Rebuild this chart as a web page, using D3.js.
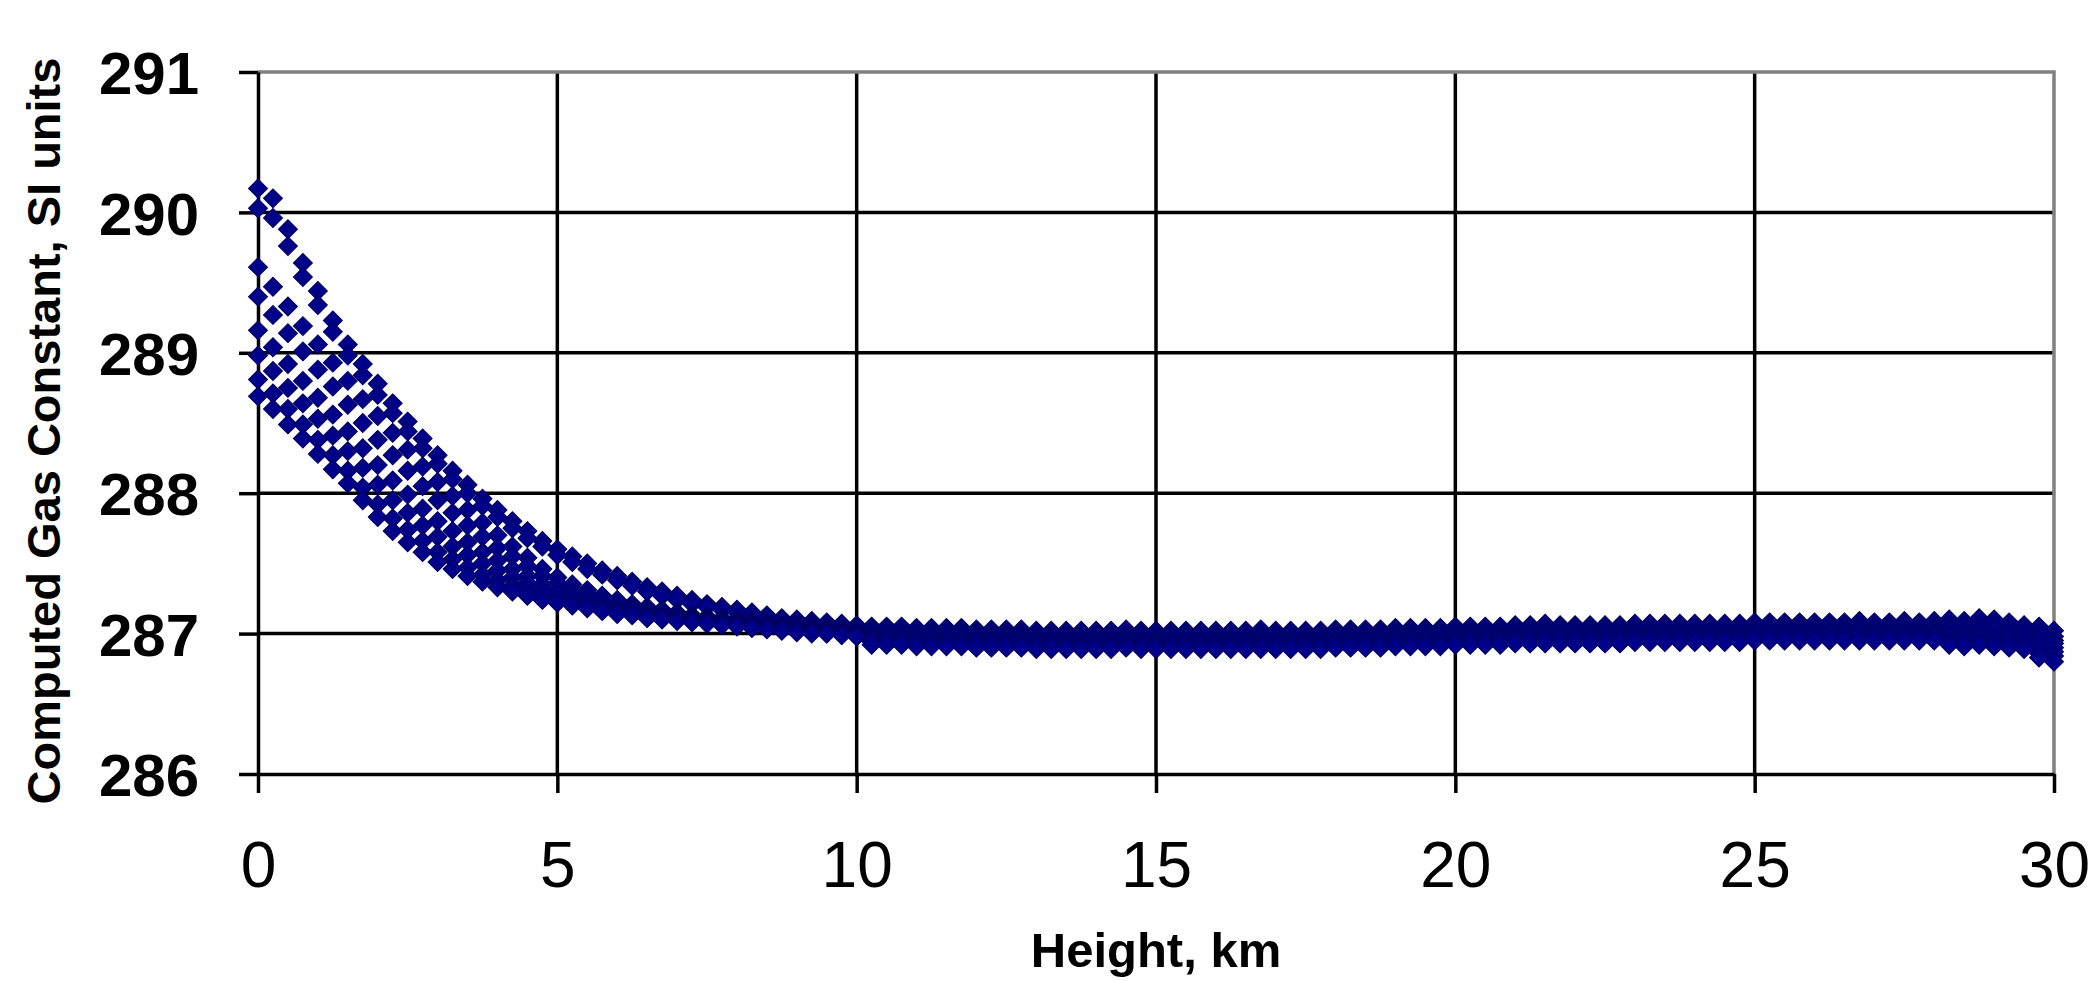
<!DOCTYPE html>
<html lang="en">
<head>
<meta charset="utf-8" />
<title>Computed gas constant vs height</title>
<script src="https://cdn.jsdelivr.net/npm/d3@7"></script>
<style>
  body { margin: 0; background: #fff; }
  svg { display: block; font-family: "Liberation Sans", Arial, sans-serif; }
</style>
</head>
<body>
<div id="chart"></div>
<script>
/*************** data ***************/

// height, km (0.25 km steps)
const heights = [
  0, 0.25, 0.5, 0.75, 1, 1.25, 1.5, 1.75, 2, 2.25, 2.5, 2.75,
  3, 3.25, 3.5, 3.75, 4, 4.25, 4.5, 4.75, 5, 5.25, 5.5, 5.75,
  6, 6.25, 6.5, 6.75, 7, 7.25, 7.5, 7.75, 8, 8.25, 8.5, 8.75,
  9, 9.25, 9.5, 9.75, 10,
  10.25, 10.5, 10.75, 11, 11.25, 11.5, 11.75, 12, 12.25, 12.5, 12.75, 13, 13.25, 13.5, 13.75, 14,
  14.25, 14.5, 14.75, 15, 15.25, 15.5, 15.75, 16, 16.25, 16.5, 16.75, 17, 17.25, 17.5, 17.75, 18,
  18.25, 18.5, 18.75, 19, 19.25, 19.5, 19.75, 20, 20.25, 20.5, 20.75, 21, 21.25, 21.5, 21.75, 22,
  22.25, 22.5, 22.75, 23, 23.25, 23.5, 23.75, 24, 24.25, 24.5, 24.75, 25, 25.25, 25.5, 25.75, 26,
  26.25, 26.5, 26.75, 27, 27.25, 27.5, 27.75, 28, 28.25, 28.5, 28.75, 29, 29.25, 29.5, 29.75, 30
];

// computed gas constant, one array per profile
const gasS1 = [
  290.17, 290.10, 289.88, 289.64, 289.44, 289.23, 289.06, 288.92, 288.78, 288.64, 288.51, 288.39,
  288.27, 288.16, 288.06, 287.96, 287.88, 287.80, 287.73, 287.66, 287.60, 287.55, 287.50, 287.45,
  287.41, 287.37, 287.33, 287.30, 287.27, 287.24, 287.21, 287.19, 287.17, 287.15, 287.13, 287.11,
  287.10, 287.09, 287.08, 287.07, 287.06,
  287.05, 287.05, 287.05, 287.04, 287.04, 287.04, 287.04, 287.03, 287.03, 287.03, 287.03, 287.02, 287.02, 287.02, 287.02, 287.02,
  287.02, 287.03, 287.02, 287.02, 287.02, 287.02, 287.02, 287.02, 287.02, 287.02, 287.03, 287.02, 287.02, 287.02, 287.02, 287.03,
  287.03, 287.03, 287.03, 287.04, 287.04, 287.04, 287.04, 287.05, 287.05, 287.05, 287.05, 287.06, 287.06, 287.07, 287.06, 287.06,
  287.06, 287.06, 287.06, 287.07, 287.07, 287.07, 287.07, 287.07, 287.07, 287.07, 287.07, 287.08, 287.08, 287.08, 287.08, 287.08,
  287.08, 287.08, 287.09, 287.08, 287.08, 287.09, 287.08, 287.09, 287.10, 287.09, 287.11, 287.10, 287.08, 287.06, 287.05, 287.02
];
const gasS2 = [
  290.03, 289.96, 289.76, 289.54, 289.34, 289.15, 288.98, 288.84, 288.70, 288.57, 288.44, 288.32,
  288.21, 288.10, 288.00, 287.91, 287.83, 287.75, 287.68, 287.62, 287.56, 287.51, 287.46, 287.42,
  287.38, 287.34, 287.30, 287.27, 287.24, 287.21, 287.19, 287.17, 287.15, 287.13, 287.11, 287.10,
  287.08, 287.07, 287.06, 287.05, 287.04,
  287.03, 287.03, 287.03, 287.02, 287.02, 287.02, 287.02, 287.01, 287.01, 287.01, 287.01, 287.00, 287.00, 287.00, 287.00, 287.00,
  287.00, 287.00, 287.00, 287.00, 287.00, 287.00, 287.00, 287.00, 287.00, 287.00, 287.00, 287.00, 287.00, 287.00, 287.00, 287.01,
  287.01, 287.01, 287.01, 287.02, 287.02, 287.02, 287.02, 287.03, 287.03, 287.03, 287.03, 287.04, 287.04, 287.04, 287.04, 287.04,
  287.04, 287.04, 287.04, 287.05, 287.05, 287.05, 287.05, 287.05, 287.05, 287.05, 287.05, 287.06, 287.06, 287.06, 287.06, 287.06,
  287.06, 287.06, 287.06, 287.06, 287.06, 287.06, 287.06, 287.06, 287.07, 287.06, 287.07, 287.07, 287.05, 287.04, 287.02, 286.98
];
const gasS3 = [
  289.61, 289.47, 289.33, 289.19, 289.06, 288.93, 288.80, 288.67, 288.55, 288.43, 288.31, 288.19,
  288.08, 287.98, 287.88, 287.79, 287.70, 287.62, 287.54, 287.46, 287.40, 287.35, 287.31, 287.27,
  287.24, 287.21, 287.19, 287.17, 287.15, 287.13, 287.12, 287.11, 287.10, 287.09, 287.08, 287.07,
  287.06, 287.05, 287.04, 287.03, 287.02,
  287.01, 287.01, 287.01, 287.00, 287.00, 287.00, 287.00, 286.99, 286.99, 286.99, 286.99, 286.98, 286.98, 286.98, 286.98, 286.98,
  286.98, 286.98, 286.98, 286.98, 286.98, 286.98, 286.98, 286.98, 286.98, 286.98, 286.98, 286.98, 286.98, 286.98, 286.98, 286.99,
  286.99, 286.99, 286.99, 287.00, 287.00, 287.00, 287.00, 287.01, 287.01, 287.01, 287.01, 287.02, 287.02, 287.02, 287.02, 287.02,
  287.02, 287.02, 287.02, 287.03, 287.03, 287.03, 287.03, 287.03, 287.03, 287.03, 287.03, 287.04, 287.04, 287.04, 287.04, 287.04,
  287.04, 287.04, 287.04, 287.04, 287.04, 287.04, 287.04, 287.04, 287.04, 287.05, 287.04, 287.04, 287.03, 287.02, 286.99, 286.95
];
const gasS4 = [
  289.40, 289.27, 289.14, 289.01, 288.88, 288.76, 288.63, 288.50, 288.38, 288.27, 288.16, 288.05,
  287.95, 287.86, 287.77, 287.69, 287.61, 287.55, 287.48, 287.41, 287.36, 287.32, 287.28, 287.24,
  287.22, 287.19, 287.17, 287.15, 287.14, 287.12, 287.11, 287.10, 287.09, 287.08, 287.07, 287.06,
  287.05, 287.04, 287.03, 287.02, 287.01,
  286.99, 286.99, 286.99, 286.98, 286.98, 286.98, 286.98, 286.97, 286.97, 286.97, 286.97, 286.96, 286.96, 286.96, 286.96, 286.96,
  286.96, 286.96, 286.96, 286.96, 286.96, 286.96, 286.96, 286.96, 286.96, 286.96, 286.96, 286.96, 286.96, 286.96, 286.96, 286.97,
  286.97, 286.97, 286.97, 286.98, 286.98, 286.98, 286.98, 286.99, 286.99, 286.99, 286.99, 287.00, 287.00, 287.00, 287.00, 287.00,
  287.00, 287.00, 287.00, 287.01, 287.01, 287.01, 287.01, 287.01, 287.01, 287.01, 287.01, 287.02, 287.02, 287.02, 287.02, 287.02,
  287.02, 287.02, 287.02, 287.02, 287.02, 287.02, 287.02, 287.02, 287.02, 287.01, 287.02, 287.02, 287.01, 287.00, 286.96, 286.93
];
const gasS5 = [
  289.16, 289.04, 288.92, 288.80, 288.68, 288.56, 288.44, 288.32, 288.20, 288.09, 287.99, 287.89,
  287.80, 287.73, 287.65, 287.58, 287.52, 287.46, 287.41, 287.35, 287.31, 287.28, 287.25, 287.22,
  287.19, 287.17, 287.15, 287.14, 287.12, 287.11, 287.10, 287.09, 287.08, 287.07, 287.06, 287.05,
  287.04, 287.03, 287.02, 287.01, 287.00,
  286.97, 286.97, 286.97, 286.96, 286.96, 286.96, 286.96, 286.95, 286.95, 286.95, 286.95, 286.94, 286.94, 286.94, 286.94, 286.94,
  286.94, 286.94, 286.94, 286.94, 286.94, 286.94, 286.94, 286.94, 286.94, 286.94, 286.94, 286.94, 286.94, 286.94, 286.94, 286.95,
  286.95, 286.95, 286.95, 286.96, 286.96, 286.96, 286.96, 286.97, 286.97, 286.97, 286.97, 286.98, 286.98, 286.98, 286.98, 286.98,
  286.98, 286.98, 286.98, 286.99, 286.99, 286.99, 286.99, 286.99, 286.99, 286.99, 286.99, 287.00, 287.00, 287.00, 287.00, 287.00,
  287.00, 287.00, 287.00, 287.00, 287.00, 287.00, 287.00, 287.00, 286.99, 286.98, 286.99, 286.98, 286.98, 286.97, 286.93, 286.90
];
const gasS6 = [
  288.98, 288.87, 288.75, 288.64, 288.53, 288.41, 288.30, 288.18, 288.06, 287.95, 287.86, 287.77,
  287.69, 287.62, 287.56, 287.50, 287.45, 287.40, 287.36, 287.31, 287.28, 287.25, 287.22, 287.19,
  287.17, 287.16, 287.14, 287.12, 287.11, 287.10, 287.09, 287.08, 287.07, 287.06, 287.05, 287.04,
  287.03, 287.02, 287.01, 287.00, 286.99,
  286.96, 286.96, 286.96, 286.95, 286.95, 286.95, 286.95, 286.94, 286.94, 286.94, 286.94, 286.93, 286.93, 286.93, 286.93, 286.93,
  286.93, 286.93, 286.93, 286.93, 286.93, 286.93, 286.93, 286.93, 286.93, 286.93, 286.93, 286.93, 286.93, 286.93, 286.93, 286.94,
  286.94, 286.94, 286.94, 286.95, 286.95, 286.95, 286.95, 286.96, 286.96, 286.96, 286.96, 286.97, 286.97, 286.97, 286.97, 286.97,
  286.97, 286.97, 286.97, 286.98, 286.98, 286.98, 286.98, 286.98, 286.98, 286.98, 286.98, 286.99, 286.99, 286.99, 286.99, 286.99,
  286.99, 286.99, 286.99, 286.99, 286.99, 286.99, 286.99, 286.99, 286.97, 286.96, 286.97, 286.96, 286.96, 286.95, 286.90, 286.87
];
const gasS7 = [
  288.81, 288.71, 288.60, 288.49, 288.38, 288.27, 288.16, 288.04, 287.92, 287.82, 287.74, 287.66,
  287.58, 287.53, 287.47, 287.42, 287.38, 287.34, 287.31, 287.27, 287.24, 287.22, 287.20, 287.17,
  287.15, 287.14, 287.12, 287.11, 287.10, 287.09, 287.08, 287.07, 287.06, 287.05, 287.04, 287.03,
  287.02, 287.01, 287.00, 286.99, 286.98,
  286.94, 286.94, 286.94, 286.93, 286.93, 286.93, 286.93, 286.92, 286.92, 286.92, 286.92, 286.91, 286.91, 286.91, 286.91, 286.91,
  286.91, 286.91, 286.91, 286.91, 286.91, 286.91, 286.91, 286.91, 286.91, 286.91, 286.91, 286.91, 286.91, 286.91, 286.91, 286.92,
  286.92, 286.92, 286.92, 286.93, 286.93, 286.93, 286.93, 286.94, 286.94, 286.94, 286.94, 286.95, 286.95, 286.95, 286.95, 286.95,
  286.95, 286.95, 286.95, 286.96, 286.96, 286.96, 286.96, 286.96, 286.96, 286.96, 286.96, 286.97, 286.97, 286.97, 286.97, 286.97,
  286.96, 286.97, 286.96, 286.97, 286.97, 286.97, 286.97, 286.97, 286.94, 286.93, 286.94, 286.93, 286.93, 286.92, 286.86, 286.84
];
const gasS8 = [
  288.69, 288.60, 288.49, 288.39, 288.28, 288.17, 288.07, 287.95, 287.83, 287.73, 287.65, 287.58,
  287.51, 287.46, 287.41, 287.37, 287.33, 287.30, 287.27, 287.24, 287.22, 287.20, 287.18, 287.16,
  287.14, 287.13, 287.11, 287.10, 287.09, 287.08, 287.07, 287.06, 287.05, 287.04, 287.03, 287.02,
  287.01, 287.00, 287.00, 286.99, 286.98,
  286.92, 286.92, 286.92, 286.91, 286.91, 286.91, 286.91, 286.90, 286.90, 286.90, 286.90, 286.89, 286.89, 286.89, 286.89, 286.89,
  286.89, 286.90, 286.89, 286.89, 286.89, 286.89, 286.89, 286.89, 286.89, 286.89, 286.89, 286.89, 286.89, 286.89, 286.89, 286.90,
  286.90, 286.90, 286.90, 286.91, 286.91, 286.91, 286.91, 286.92, 286.92, 286.92, 286.92, 286.93, 286.93, 286.93, 286.93, 286.93,
  286.93, 286.93, 286.93, 286.94, 286.94, 286.94, 286.94, 286.94, 286.94, 286.94, 286.94, 286.95, 286.95, 286.95, 286.95, 286.95,
  286.95, 286.95, 286.95, 286.95, 286.95, 286.95, 286.95, 286.95, 286.92, 286.91, 286.92, 286.91, 286.90, 286.89, 286.83, 286.80
];

const xTicks = [0, 5, 10, 15, 20, 25, 30];
const yTicks = [286, 287, 288, 289, 290, 291];

const xTitle = "Height, km";
const yTitle = "Computed Gas Constant, SI units";

/*************** svg ***************/

const width = 2094;
const height = 981;
const margin = { top: 72, right: 40, bottom: 207, left: 258 };

const svg = d3.select("#chart").append("svg")
  .attr("width", width)
  .attr("height", height);

svg.append("rect").attr("width", width).attr("height", height).attr("fill", "#fff");

/*************** scales ***************/

const xScale = d3.scaleLinear()
  .domain([0, 30])
  .range([margin.left, width - margin.right]);

const yScale = d3.scaleLinear()
  .domain([286, 291])
  .range([height - margin.bottom, margin.top]);

/*************** grid + frame ***************/

const grid = svg.append("g");

grid.selectAll("line.hgrid")
  .data(yTicks.filter(d => d > 286 && d < 291))
  .enter().append("line")
  .attr("class", "hgrid")
  .attr("x1", xScale(0)).attr("x2", xScale(30))
  .attr("y1", d => yScale(d)).attr("y2", d => yScale(d))
  .attr("stroke", "#000").attr("stroke-width", 3.5);

grid.selectAll("line.vgrid")
  .data(xTicks.filter(d => d > 0 && d < 30))
  .enter().append("line")
  .attr("class", "vgrid")
  .attr("x1", d => xScale(d)).attr("x2", d => xScale(d))
  .attr("y1", yScale(291)).attr("y2", yScale(286))
  .attr("stroke", "#000").attr("stroke-width", 3.5);

// top and right border of the plot area (grey)
grid.append("path")
  .attr("d", `M${xScale(0)},${yScale(291)}H${xScale(30)}V${yScale(286)}`)
  .attr("fill", "none").attr("stroke", "#808080").attr("stroke-width", 3.5);

/*************** axes ***************/

const xAxis = d3.axisBottom(xScale)
  .tickValues(xTicks)
  .tickFormat(d3.format("d"))
  .tickSize(19)
  .tickSizeOuter(0)
  .tickPadding(49);

const yAxis = d3.axisLeft(yScale)
  .tickValues(yTicks)
  .tickFormat(d3.format("d"))
  .tickSize(19)
  .tickSizeOuter(0)
  .tickPadding(40);

const gx = svg.append("g")
  .attr("transform", `translate(0, ${yScale(286)})`)
  .call(xAxis);

const gy = svg.append("g")
  .attr("transform", `translate(${xScale(0)}, 0)`)
  .call(yAxis);

[gx, gy].forEach(g => {
  g.select(".domain").attr("stroke", "#000").attr("stroke-width", 3.5);
  g.selectAll(".tick line").attr("stroke", "#000").attr("stroke-width", 3.5);
});

gx.selectAll(".tick text")
  .attr("fill", "#000")
  .style("font-size", "64px")
  .style("font-family", '"Liberation Sans", Arial, sans-serif');

gy.selectAll(".tick text")
  .attr("fill", "#000")
  .attr("dy", "0.36em")
  .style("font-size", "60px")
  .style("font-weight", "bold")
  .style("font-family", '"Liberation Sans", Arial, sans-serif');

/*************** titles ***************/

svg.append("text")
  .attr("x", (xScale(0) + xScale(30)) / 2)
  .attr("y", 967)
  .attr("text-anchor", "middle")
  .style("font-size", "49px")
  .style("font-weight", "bold")
  .text(xTitle);

svg.append("text")
  .attr("transform", `translate(60, ${(yScale(286) + yScale(291)) / 2 + 8}) rotate(-90)`)
  .attr("text-anchor", "middle")
  .style("font-size", "47px")
  .style("font-weight", "bold")
  .text(yTitle);

/*************** markers ***************/

const allSeries = [gasS1, gasS2, gasS3, gasS4, gasS5, gasS6, gasS7, gasS8];
const points = allSeries.flatMap((vals, s) =>
  heights.map((h, i) => ({ h: h, v: vals[i], s: s })).filter(p => p.v !== undefined)
);

const diamond = d3.symbol().type(d3.symbolSquare).size(180);

svg.append("g")
  .selectAll("path")
  .data(points)
  .enter().append("path")
  .attr("d", diamond)
  .attr("transform", d => `translate(${xScale(d.h)}, ${yScale(d.v)}) rotate(45)`)
  .attr("fill", "#000088")
  .attr("stroke", "#00005e")
  .attr("stroke-width", 1);
</script>
</body>
</html>
